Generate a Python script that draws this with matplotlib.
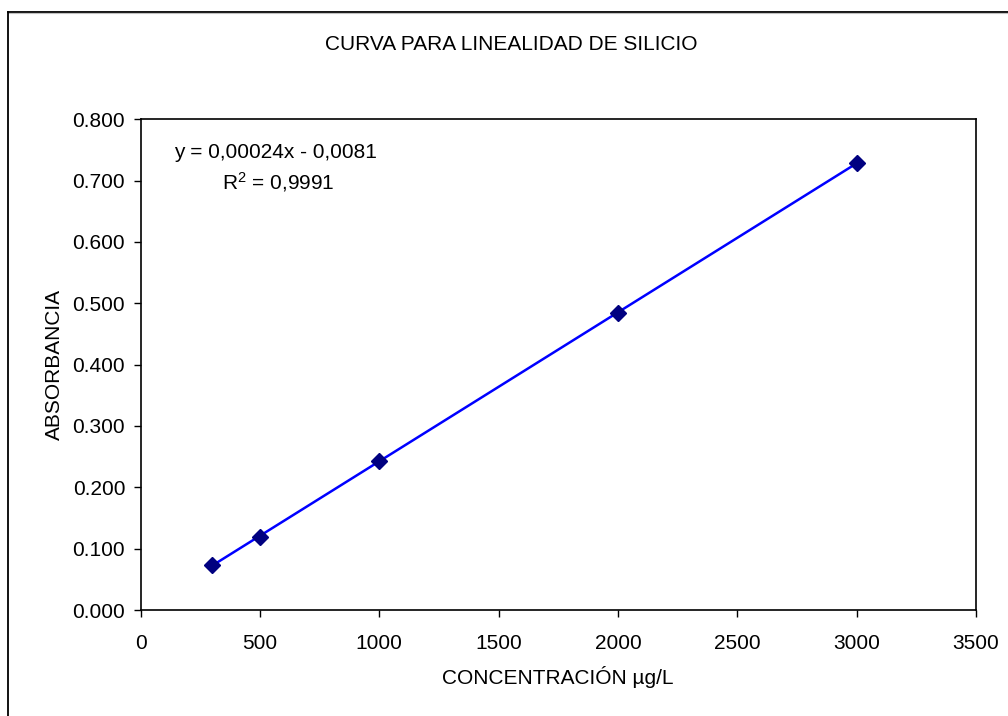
import numpy as np
import matplotlib
matplotlib.use("Agg")
import matplotlib.pyplot as plt
from matplotlib.lines import Line2D

plt.rcParams["font.family"] = ["Liberation Sans", "DejaVu Sans"]
plt.rcParams["mathtext.fontset"] = "custom"
plt.rcParams["mathtext.rm"] = "Liberation Sans"
plt.rcParams["mathtext.it"] = "Liberation Sans"

# Calibration standards
concentration = [300, 500, 1000, 2000, 3000]
absorbance = [0.074, 0.119, 0.243, 0.484, 0.729]

x_ticks = [0, 500, 1000, 1500, 2000, 2500, 3000, 3500]
y_ticks = [0.0, 0.1, 0.2, 0.3, 0.4, 0.5, 0.6, 0.7, 0.8]

equation_text = "y = 0,00024x - 0,0081"
r2_text = r"R$^2$ = 0,9991"

FS = 15
W, H = 1008, 716
fig = plt.figure(figsize=(W / 100, H / 100), dpi=100)
ax = fig.add_axes([140.5 / W, 1 - 610 / H, (976 - 140.5) / W, (610 - 119.3) / H])

# Linear trendline over the measured range
slope, intercept = np.polyfit(concentration, absorbance, 1)
xs = np.array([min(concentration), max(concentration)])
ax.plot(xs, slope * xs + intercept, color="#0000FF", lw=1.8, zorder=2)
ax.plot(concentration, absorbance, linestyle="none", marker="D", markersize=8.5,
        markerfacecolor="#000080", markeredgecolor="#000080", zorder=3)

ax.set_xlim(0, 3500)
ax.set_ylim(0, 0.8)
ax.set_xticks(x_ticks)
ax.set_yticks(y_ticks)
ax.set_yticklabels([f"{v:.3f}" for v in y_ticks])
ax.tick_params(direction="out", length=5, width=1, color="#000000",
               labelsize=FS)
ax.tick_params(axis="x", pad=12)
ax.tick_params(axis="y", pad=6)
for s in ax.spines.values():
    s.set_color("#000000")
    s.set_linewidth(1.2)

ax.set_xlabel("CONCENTRACIÓN µg/L", fontsize=FS, labelpad=10)
ax.set_ylabel("ABSORBANCIA", fontsize=FS, labelpad=6)

fig.text(511 / W, 1 - 45 / H, "CURVA PARA LINEALIDAD DE SILICIO",
         ha="center", va="center", fontsize=FS)

ax.text(275 / W, 1 - 152 / H, equation_text, transform=fig.transFigure,
        ha="center", va="center", fontsize=FS)
ax.text(278 / W, 1 - 182 / H, r2_text, transform=fig.transFigure,
        ha="center", va="center", fontsize=FS)

# Chart frame: top and left edges with a light shadow
fig.add_artist(Line2D([7.5 / W, 1], [1 - 11.5 / H, 1 - 11.5 / H],
                      transform=fig.transFigure, color="#000000", lw=1.3))
fig.add_artist(Line2D([8 / W, 1], [1 - 13 / H, 1 - 13 / H],
                      transform=fig.transFigure, color="#c0c0c0", lw=0.8))
fig.add_artist(Line2D([7.5 / W, 7.5 / W], [0, 1 - 11.5 / H],
                      transform=fig.transFigure, color="#000000", lw=1.3))

fig.savefig("out.png", dpi=100)
